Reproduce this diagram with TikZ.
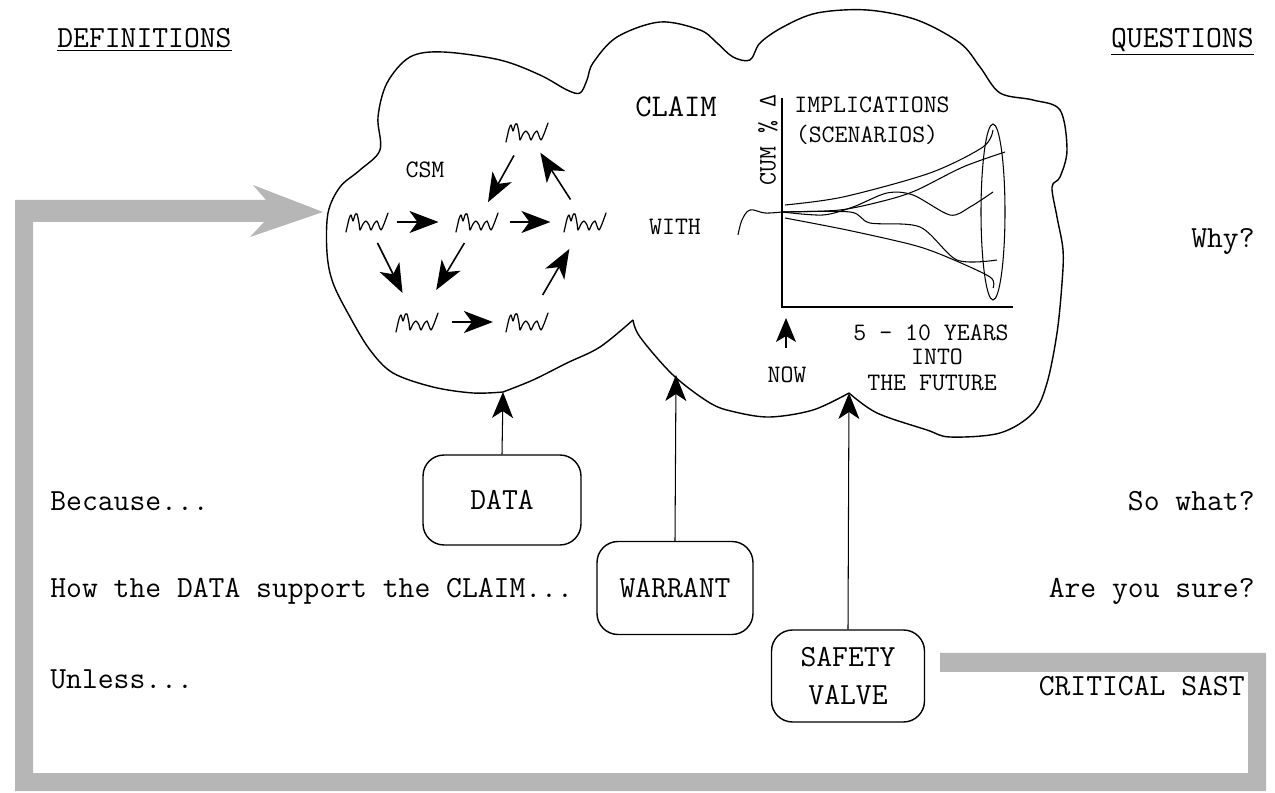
\documentclass[tikz,border=0pt]{standalone}
\usepackage{fontspec}
\usetikzlibrary{arrows.meta,calc}
\definecolor{bandgray}{RGB}{182,182,182}
\tikzset{
  txt/.style={inner sep=0pt,font=\ttfamily\fontsize{17.5}{20}\selectfont},
  small/.style={inner sep=0pt,font=\ttfamily\fontsize{14.3}{16}\selectfont},
  box/.style={draw,rounded corners=0.42cm,line width=0.8pt,inner sep=0pt,align=center,
    font=\ttfamily\fontsize{17.5}{21.5}\selectfont},
  conn/.style={line width=0.6pt,-{Stealth[length=0.52cm,width=0.42cm,inset=0.14cm]}},
  netarrow/.style={line width=0.9pt,-{Stealth[length=0.58cm,width=0.44cm,inset=0.16cm]}},
  squig/.style={inner sep=0pt,minimum width=0.84cm,minimum height=0.4cm},
  cloudline/.style={line width=0.8pt,line join=round},
  sq/.pic={\draw[line width=0.7pt,line join=round,line cap=round] plot[smooth,tension=0.45] coordinates{(-21,10) (-18,-3) (-16,-7) (-14,-1) (-12,-7) (-10,-8) (-8,1) (-7,8) (-4,2) (-1,-1) (2,3) (4,8) (7,2) (10,-1) (12,4) (14,8) (17,2) (21,-9)};}
}
\begin{document}
\begin{tikzpicture}[x=0.02cm,y=-0.02cm]
\useasboundingbox (0,0) rectangle (1275,793);

% grey feedback band
\fill[bandgray] (940,653) -- (1266,653) -- (1266,791) -- (15,791) -- (15,200) -- (266,200)
  -- (253,185) -- (323,212) -- (250,237) -- (264,222) -- (33,222) -- (33,773)
  -- (1248,773) -- (1248,672) -- (940,672) -- cycle;

% cloud
\coordinate (cuspA) at (503,392);
\coordinate (cuspB) at (633,320);
\coordinate (cuspC) at (849,393);
\draw[cloudline] plot[smooth,tension=0.55] coordinates{(503,392) (473,393) (433,387) (393,373) (370,350) (350,317) (333,283) (327,253) (328,213) (340,187) (360,170) (380,150) (378,117) (387,83) (410,57) (443,52) (500,60) (540,75) (567,90) (580,93) (587,80) (593,63) (617,37) (660,22) (700,30) (717,43) (733,57) (750,60) (760,43) (783,27) (817,13) (867,10) (917,20) (960,43) (980,67) (1000,93) (1033,100) (1060,110) (1067,150) (1060,177) (1052,187) (1057,217) (1063,250) (1062,283) (1057,333) (1047,383) (1033,413) (1000,433) (950,437) (927,430) (877,413) (849,393)};
\draw[cloudline] plot[smooth,tension=0.55] coordinates{(849,393) (813,410) (770,417) (735,412) (710,403) (673,375) (640,337) (633,320)};
\draw[cloudline] plot[smooth,tension=0.55] coordinates{(633,320) (600,347) (567,363) (533,380) (503,392)};

% headings and side texts
\node[txt,anchor=base west] (def) at (57,48) {\underline{DEFINITIONS}};
\node[txt,anchor=base east] (que) at (1254,48) {\underline{QUESTIONS}};
\node[txt,anchor=base west] (because) at (50,511) {Because...};
\node[txt,anchor=base west] (how) at (50,598) {How the DATA support the CLAIM...};
\node[txt,anchor=base west] (unless) at (50,688) {Unless...};
\node[txt,anchor=base east] (why) at (1255,248) {Why?};
\node[txt,anchor=base east] (sowhat) at (1255,511) {So what?};
\node[txt,anchor=base east] (sure) at (1255,598) {Are you sure?};
\node[txt,anchor=base east] (sast) at (1245,695) {CRITICAL SAST};

% cloud texts
\node[small] (csm) at (425,170) {CSM};
\node[inner sep=0pt,font=\ttfamily\fontsize{18}{20}\selectfont] (claim) at (676,107) {CLAIM};
\node[small] (with) at (675,227) {WITH};

% CSM network
\node[squig] (s1) at (367,222) {}; \pic at (s1) {sq};
\node[squig] (s2) at (477,222) {}; \pic at (s2) {sq};
\node[squig] (s3) at (585,222) {}; \pic at (s3) {sq};
\node[squig] (s4) at (527,132) {}; \pic at (s4) {sq};
\node[squig] (s5) at (417,322) {}; \pic at (s5) {sq};
\node[squig] (s6) at (527,322) {}; \pic at (s6) {sq};
\draw[netarrow] ($(s1)!0.27!(s2)$) -- ($(s1)!0.65!(s2)$);
\draw[netarrow] ($(s2)!0.31!(s3)$) -- ($(s2)!0.68!(s3)$);
\draw[netarrow] ($(s4)!0.26!(s2)$) -- ($(s4)!0.78!(s2)$);
\draw[netarrow] ($(s3)!0.25!(s4)$) -- ($(s3)!0.77!(s4)$);
\draw[netarrow] ($(s1)!0.21!(s5)$) -- ($(s1)!0.71!(s5)$);
\draw[netarrow] ($(s2)!0.21!(s5)$) -- ($(s2)!0.68!(s5)$);
\draw[netarrow] ($(s6)!0.27!(s3)$) -- ($(s6)!0.73!(s3)$);
\draw[netarrow] ($(s5)!0.32!(s6)$) -- ($(s5)!0.69!(s6)$);

% chart
\draw[line width=0.8pt] (782,98) -- (782,307) -- (1013,307);
\node[small,rotate=90] (cum) at (768,140) {CUM \% Δ};
\node[small] (impl) at (872,105) {IMPLICATIONS};
\node[small] (scen) at (867,135) {(SCENARIOS)};
\draw[line width=0.6pt] plot[smooth,tension=0.6] coordinates{(738,235) (742,220) (750,210) (765,213) (782,212)};
\draw[line width=0.6pt] plot[smooth,tension=0.5] coordinates{(785,205) (843,197) (930,173) (983,147) (993,130)};
\draw[line width=0.6pt] plot[smooth,tension=0.5] coordinates{(782,212) (840,210) (887,200) (917,190) (963,167) (1005,152)};
\draw[line width=0.6pt] plot[smooth,tension=0.5] coordinates{(782,212) (823,215) (853,207) (887,193) (913,195) (950,215) (970,207) (993,192)};
\draw[line width=0.6pt] plot[smooth,tension=0.5] coordinates{(782,212) (850,212) (870,223) (920,227) (957,260) (997,260)};
\draw[line width=0.6pt] plot[smooth,tension=0.5] coordinates{(785,218) (847,230) (913,245) (947,257) (990,277) (993,288)};
\draw[line width=0.6pt] (993,212) ellipse [x radius=0.24cm, y radius=1.76cm];
\node[small] (yrs) at (931,333) {5 - 10 YEARS};
\node[small] (into) at (937,357) {INTO};
\node[small] (fut) at (932,383) {THE FUTURE};
\node[small] (now) at (787,375) {NOW};
\coordinate (nowtail) at (786,348);
\coordinate (nowtip) at (786,318);
\draw[line width=0.6pt,-{Stealth[length=0.48cm,width=0.4cm,inset=0.12cm]}] (nowtail) -- (nowtip);

% boxes
\node[box,minimum width=3.16cm,minimum height=1.8cm] (data) at (502,500) {DATA};
\node[box,minimum width=3.12cm,minimum height=1.86cm] (warrant) at (675,588) {WARRANT};
\node[box,minimum width=3.06cm,minimum height=1.84cm] (safety) at (848,676) {SAFETY\\VALVE};
\coordinate (wtip) at (676,375);
\draw[conn] (data.north) -- (cuspA);
\draw[conn] (warrant.north) -- (wtip);
\draw[conn] (safety.north) -- (cuspC);
\end{tikzpicture}
\end{document}
